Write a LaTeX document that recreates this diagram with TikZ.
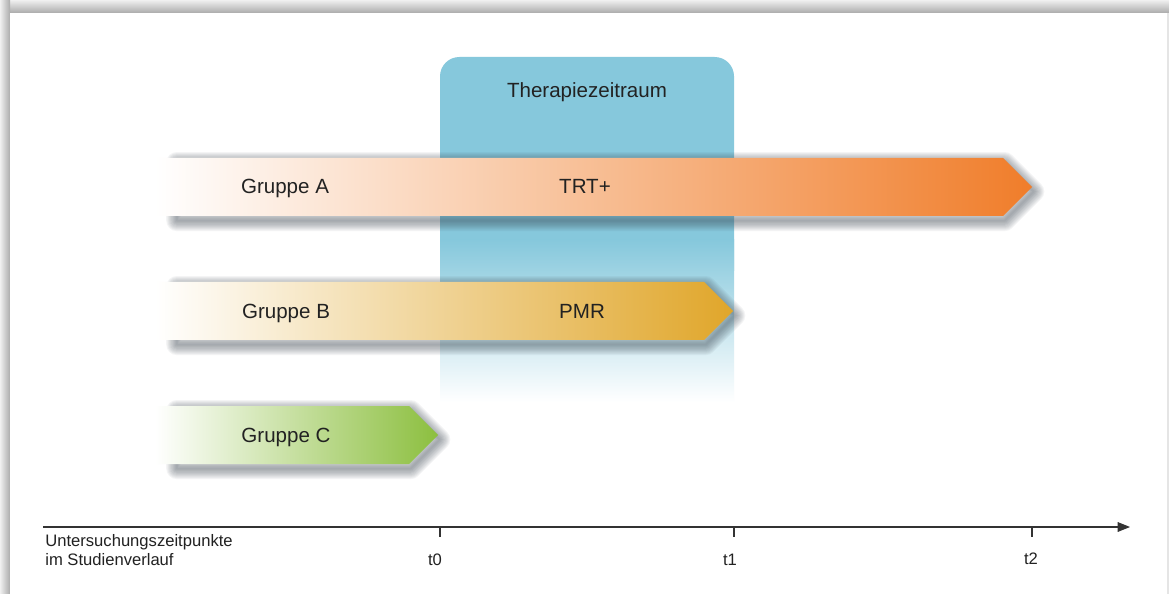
\documentclass[tikz,border=0pt]{standalone}
\usepackage{fontspec}
\setmainfont{Liberation Sans}
\usepackage{tikz}
\usetikzlibrary{positioning,arrows.meta}
\definecolor{boxblue}{HTML}{86C8DC}
\definecolor{orangeA}{HTML}{F07D2A}
\definecolor{goldB}{HTML}{E0A62A}
\definecolor{greenC}{HTML}{8CBF3F}
\definecolor{textgray}{HTML}{222222}
\definecolor{shadowgray}{HTML}{3A4550}
% soft shadow under a group arrow: #1 = top edge, #2 = end of body, #3 = tip
\newcommand{\arrowshadow}[3]{%
  \begin{scope}[xshift=1pt, yshift=-2.6pt]
    \foreach \w in {1,...,10}
      \draw[shadowgray, opacity=0.055, line width=\w*1.2pt, line join=round]
        (175,#1) -- (#2,#1) -- (#3,#1+29) -- (#2,#1+58) -- (175,#1+58) -- cycle;
  \end{scope}}

\begin{document}
\begin{tikzpicture}[x=0.02cm, y=-0.02cm,
    grouplabel/.style={font=\fontsize{11.7}{14}\selectfont, text=textgray, inner sep=0pt},
    axislabel/.style={font=\fontsize{9.45}{10.8}\selectfont, text=textgray, inner sep=0pt}]
    \useasboundingbox (0,0) rectangle (1169,594);

    % Page with shadow on top and left
    \fill[black!10] (0,0) rectangle (1169,594);
    \shade[top color=black!6, bottom color=black!33] (0,0) rectangle (1169,13);
    \shade[left color=black!6, right color=black!33] (0,0) rectangle (10,594);
    \fill[white] (10,13) rectangle (1167,594);

    % Therapy period - fades out at the bottom
    \fill[boxblue, rounded corners=11pt] (440,57) rectangle (734,290);
    \shade[top color=boxblue, middle color=boxblue!85, bottom color=white] (440,240) rectangle (734,402);
    \node[grouplabel, anchor=base] (thz) at (587,98) {Therapiezeitraum};

    % Gruppe A - TRT+ until t2
    \arrowshadow{158}{1003}{1032}
    \shade[left color=white, middle color=orangeA!60, right color=orangeA]
        (155,158) -- (1003,158) -- (1032,187) -- (1003,216) -- (155,216) -- cycle;
    \node[grouplabel, anchor=base] (grpA) at (285,194) {Gruppe A};
    \node[grouplabel, anchor=base] (trt) at (585,194) {TRT+};

    % Gruppe B - PMR until t1
    \arrowshadow{282}{704}{733}
    \shade[left color=white, middle color=goldB!80, right color=goldB]
        (155,282) -- (704,282) -- (733,311) -- (704,340) -- (155,340) -- cycle;
    \node[grouplabel, anchor=base] (grpB) at (286,318) {Gruppe B};
    \node[grouplabel, anchor=base] (pmr) at (582,318) {PMR};

    % Gruppe C - until t0
    \arrowshadow{406}{409}{438}
    \shade[left color=white, middle color=greenC!45, right color=greenC]
        (155,406) -- (409,406) -- (438,435) -- (409,464) -- (155,464) -- cycle;
    \node[grouplabel, anchor=base] (grpC) at (286,442) {Gruppe C};

    % Time axis
    \coordinate (axstart) at (43,527);
    \coordinate (axend) at (1130,527);
    \draw[black!80, line width=0.6pt, -{Triangle[length=7pt, width=5.5pt]}] (axstart) -- (axend);
    \draw[black!80, line width=0.6pt] (440,527) -- (440,537);
    \draw[black!80, line width=0.6pt] (734,527) -- (734,537);
    \draw[black!80, line width=0.6pt] (1032,527) -- (1032,537);
    \node[axislabel, anchor=base] (tzero) at (435,565) {t0};
    \node[axislabel, anchor=base] (tone) at (730,565) {t1};
    \node[axislabel, anchor=base] (ttwo) at (1031,564) {t2};
    \node[axislabel, anchor=base west, align=left] (axname) at (45,565) {Untersuchungszeitpunkte\\im Studienverlauf};
\end{tikzpicture}
\end{document}
